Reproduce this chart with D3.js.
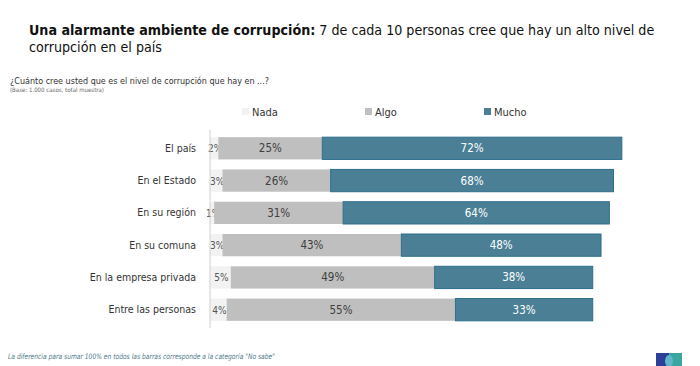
<!DOCTYPE html>
<html><head><meta charset="utf-8">
<script src="https://cdn.jsdelivr.net/npm/d3@7"></script>
<style>
body{margin:0;background:#fff;}
svg{display:block;}
text{font-family:"DejaVu Sans Condensed",Roboto,sans-serif;}
</style></head>
<body><svg id="c" width="700" height="366"></svg>
<script>
const categories = ["El país","En el Estado","En su región","En su comuna","En la empresa privada","Entre las personas"];
const seriesNames = ["Nada","Algo","Mucho"];
const nada  = [2,3,1,3,5,4];
const algo  = [25,26,31,43,49,55];
const mucho = [72,68,64,48,38,33];
const colors = ["#f2f2f2","#bfbfbf","#4a7f96"];
const strokes = ["#f2f2f2","#bfbfbf","#2d6f8c"];
const labelColors = ["#555","#404040","#ffffff"];

const svg = d3.select("#c");

// Title: fit font size so line 1 spans x=29..655
const t1 = svg.append("text").attr("x",29).attr("y",35).attr("font-size",18).attr("fill","#111");
t1.append("tspan").attr("font-weight","bold").text("Una alarmante ambiente de corrupción:");
t1.append("tspan").text(" 7 de cada 10 personas cree que hay un alto nivel de");
const w1 = t1.node().getComputedTextLength();
const fs = Math.min(18, 18*626/w1);
t1.attr("font-size",fs);
svg.append("text").attr("x",29).attr("y",35+fs*1.17).attr("font-size",fs).attr("fill","#111")
  .text("corrupción en el país");

svg.append("text").attr("x",10).attr("y",84).attr("font-size",9).attr("fill","#333")
  .attr("textLength",259).attr("lengthAdjust","spacingAndGlyphs")
  .text("¿Cuánto cree usted que es el nivel de corrupción que hay en ...?");
svg.append("text").attr("x",10).attr("y",92).attr("font-size",6).attr("fill","#666")
  .attr("textLength",94).attr("lengthAdjust","spacingAndGlyphs")
  .text("(Base: 1.000 casos, total muestra)");

// Scales
const x = d3.scaleLinear().domain([0,100]).range([210,626]);
const y = d3.scaleBand().domain(categories).range([132,326]).paddingInner(0.31).paddingOuter(0.16);

const stackData = categories.map((c,i)=>({cat:c, Nada:nada[i], Algo:algo[i], Mucho:mucho[i]}));
const stacked = d3.stack().keys(seriesNames)(stackData);

// Legend
const legX = [242,365,484];
seriesNames.forEach((s,i)=>{
  const g = svg.append("g");
  g.append("rect").attr("x",legX[i]).attr("y",108).attr("width",7).attr("height",7).attr("fill",colors[i]);
  g.append("text").attr("x",legX[i]+10).attr("y",115.5).attr("font-size",11).attr("fill","#333").text(s);
});

// Bars
stacked.forEach((layer,li)=>{
  const g = svg.append("g");
  g.selectAll("rect").data(layer).join("rect")
    .attr("x",d=>x(d[0])).attr("width",d=>x(d[1])-x(d[0]))
    .attr("y",d=>y(d.data.cat)).attr("height",y.bandwidth())
    .attr("fill",colors[li])
    .attr("stroke",strokes[li]).attr("stroke-width",li===2?1:0);
  g.selectAll("text").data(layer).join("text")
    .attr("x",d=> li===0 ? x(d[0])+ (x(d[1])-x(d[0]))/2 + 1 : (x(d[0])+x(d[1]))/2)
    .attr("y",d=>y(d.data.cat)+y.bandwidth()/2+4)
    .attr("text-anchor","middle")
    .attr("font-size",li===0?10:11.5)
    .attr("fill",labelColors[li])
    .text(d=>(d[1]-d[0])+"%");
});

// Axis
const yAxis = d3.axisLeft(y).tickSize(0).tickPadding(14);
const ag = svg.append("g").attr("transform","translate(210,0)").call(yAxis);
ag.select(".domain").attr("stroke","#d0d0d0").attr("d","M0,130V328");
ag.selectAll("text").attr("font-size",10.5).attr("fill","#333")
  .style("font-family",'"DejaVu Sans Condensed",Roboto,sans-serif');

// Footnote
svg.append("text").attr("x",8).attr("y",359).attr("font-size",7.5).attr("font-style","italic")
  .attr("fill","#4f7a8a").attr("textLength",267).attr("lengthAdjust","spacingAndGlyphs")
  .text("La diferencia para sumar 100% en todos las barras corresponde a la categoría \"No sabe\"");

// Logo
svg.append("rect").attr("x",656).attr("y",353).attr("width",13).attr("height",13).attr("fill","#2e3f9a");
svg.append("rect").attr("x",669).attr("y",353).attr("width",13).attr("height",13).attr("fill","#3aa6a0");
svg.append("ellipse").attr("cx",669).attr("cy",361).attr("rx",4).attr("ry",6).attr("fill","#5fb6c9");
</script></body></html>
